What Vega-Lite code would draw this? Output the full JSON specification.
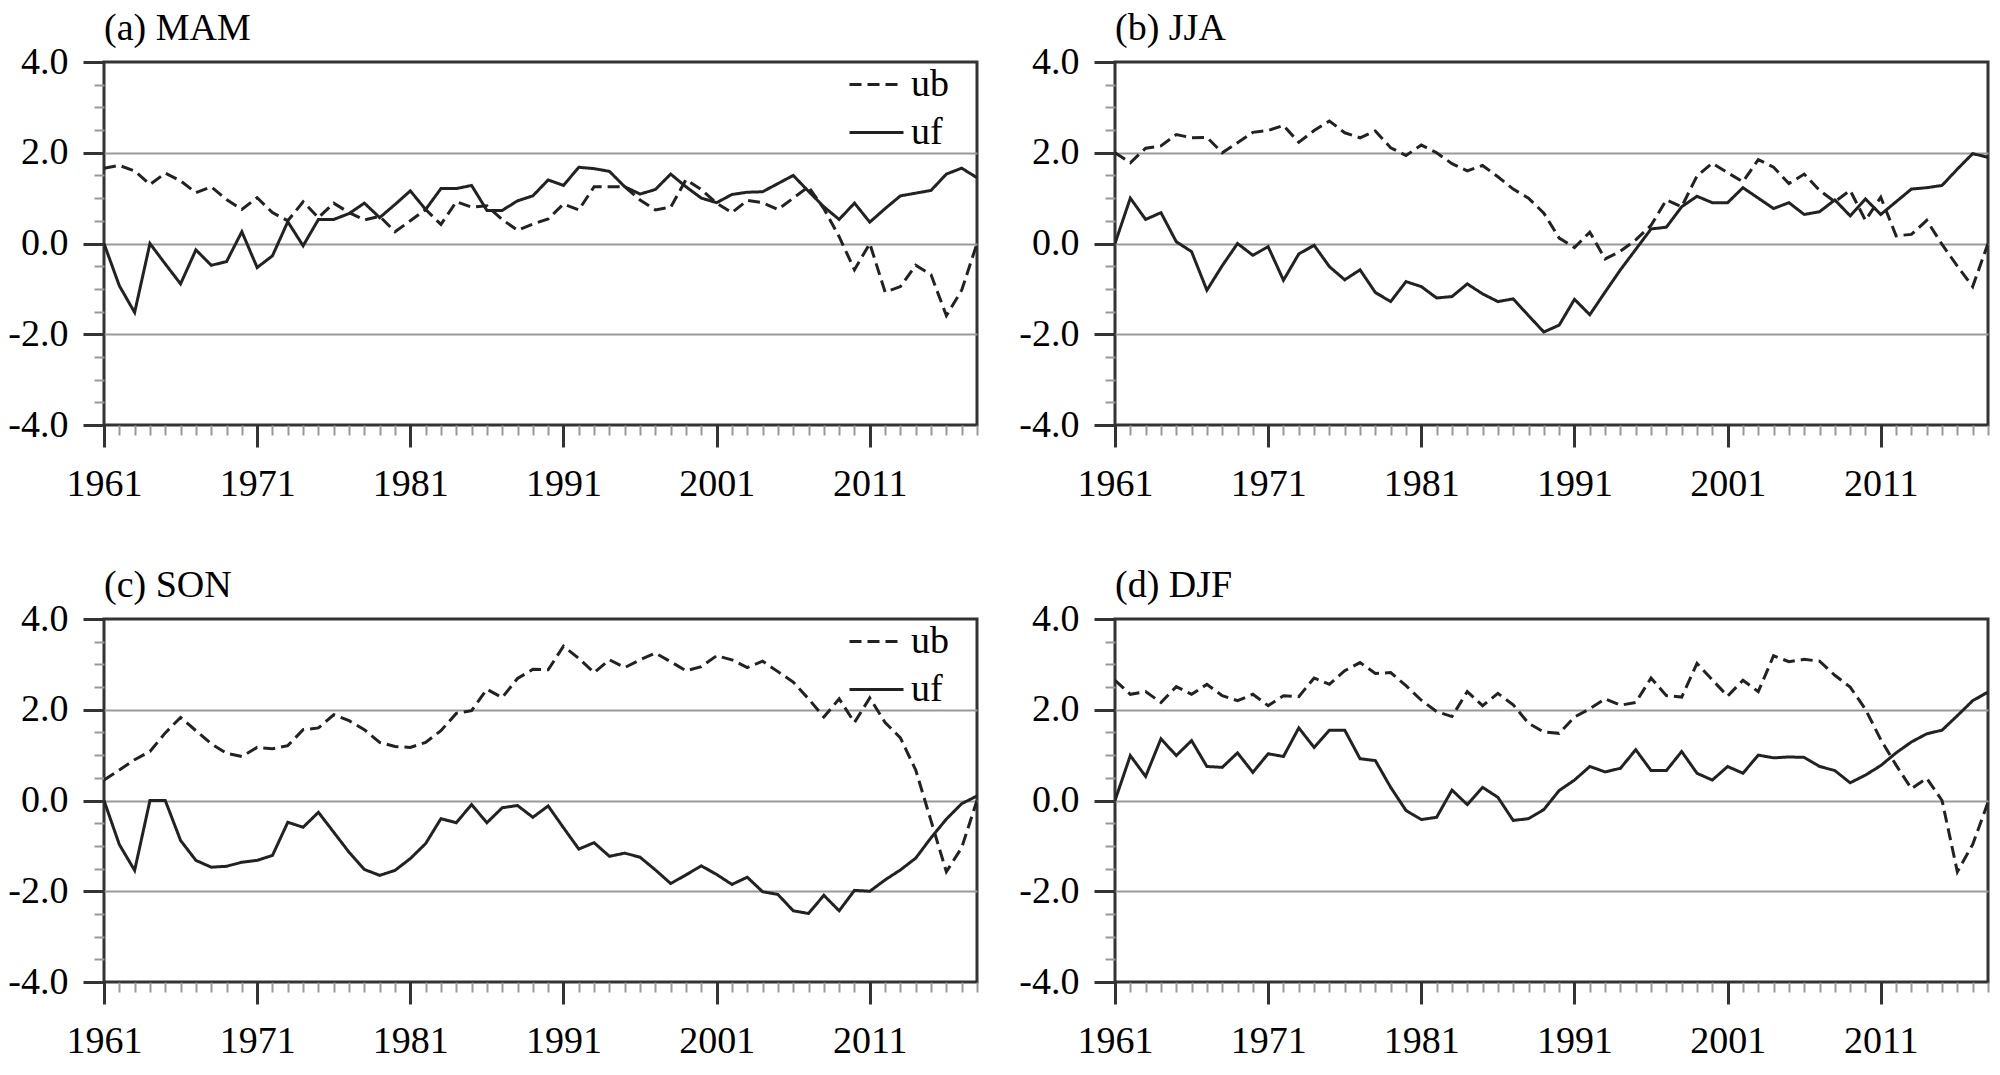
{
  "$schema": "https://vega.github.io/schema/vega-lite/v6.json",
  "background": "white",
  "padding": {"left": 6, "top": 8, "right": 5, "bottom": 5},
  "datasets": {
    "a": [
      {"year":1961,"ub":1.66,"uf":0},{"year":1962,"ub":1.72,"uf":-0.93},{"year":1963,"ub":1.6,"uf":-1.52},{"year":1964,"ub":1.3,"uf":0},
      {"year":1965,"ub":1.55,"uf":-0.45},{"year":1966,"ub":1.38,"uf":-0.89},{"year":1967,"ub":1.12,"uf":-0.14},{"year":1968,"ub":1.25,"uf":-0.48},
      {"year":1969,"ub":0.97,"uf":-0.4},{"year":1970,"ub":0.75,"uf":0.26},{"year":1971,"ub":1.01,"uf":-0.53},{"year":1972,"ub":0.68,"uf":-0.27},
      {"year":1973,"ub":0.5,"uf":0.48},{"year":1974,"ub":0.92,"uf":-0.05},{"year":1975,"ub":0.57,"uf":0.53},{"year":1976,"ub":0.89,"uf":0.53},
      {"year":1977,"ub":0.68,"uf":0.66},{"year":1978,"ub":0.52,"uf":0.89},{"year":1979,"ub":0.6,"uf":0.57},{"year":1980,"ub":0.26,"uf":0.86},
      {"year":1981,"ub":0.5,"uf":1.16},{"year":1982,"ub":0.75,"uf":0.75},{"year":1983,"ub":0.42,"uf":1.21},{"year":1984,"ub":0.92,"uf":1.21},
      {"year":1985,"ub":0.8,"uf":1.28},{"year":1986,"ub":0.83,"uf":0.73},{"year":1987,"ub":0.53,"uf":0.73},{"year":1988,"ub":0.29,"uf":0.94},
      {"year":1989,"ub":0.43,"uf":1.05},{"year":1990,"ub":0.54,"uf":1.4},{"year":1991,"ub":0.87,"uf":1.28},{"year":1992,"ub":0.74,"uf":1.68},
      {"year":1993,"ub":1.25,"uf":1.65},{"year":1994,"ub":1.25,"uf":1.59},{"year":1995,"ub":1.25,"uf":1.25},{"year":1996,"ub":0.96,"uf":1.09},
      {"year":1997,"ub":0.74,"uf":1.19},{"year":1998,"ub":0.8,"uf":1.53},{"year":1999,"ub":1.41,"uf":1.25},{"year":2000,"ub":1.19,"uf":1.0},
      {"year":2001,"ub":0.89,"uf":0.9},{"year":2002,"ub":0.68,"uf":1.08},{"year":2003,"ub":0.95,"uf":1.13},{"year":2004,"ub":0.9,"uf":1.14},
      {"year":2005,"ub":0.75,"uf":1.32},{"year":2006,"ub":1.0,"uf":1.5},{"year":2007,"ub":1.25,"uf":1.15},{"year":2008,"ub":0.77,"uf":0.81},
      {"year":2009,"ub":0.15,"uf":0.53},{"year":2010,"ub":-0.58,"uf":0.89},{"year":2011,"ub":0,"uf":0.47},{"year":2012,"ub":-1.07,"uf":0.77},
      {"year":2013,"ub":-0.95,"uf":1.05},{"year":2014,"ub":-0.48,"uf":1.11},{"year":2015,"ub":-0.69,"uf":1.17},{"year":2016,"ub":-1.59,"uf":1.53},
      {"year":2017,"ub":-1.03,"uf":1.66},{"year":2018,"ub":0,"uf":1.45}
    ],
    "b": [
      {"year":1961,"ub":2.0,"uf":0},{"year":1962,"ub":1.78,"uf":1.0},{"year":1963,"ub":2.1,"uf":0.53},{"year":1964,"ub":2.15,"uf":0.68},
      {"year":1965,"ub":2.4,"uf":0.04},{"year":1966,"ub":2.33,"uf":-0.18},{"year":1967,"ub":2.34,"uf":-1.03},{"year":1968,"ub":2.0,"uf":-0.49},
      {"year":1969,"ub":2.22,"uf":0},{"year":1970,"ub":2.45,"uf":-0.26},{"year":1971,"ub":2.49,"uf":-0.07},{"year":1972,"ub":2.6,"uf":-0.81},
      {"year":1973,"ub":2.23,"uf":-0.23},{"year":1974,"ub":2.49,"uf":-0.04},{"year":1975,"ub":2.7,"uf":-0.51},{"year":1976,"ub":2.44,"uf":-0.8},
      {"year":1977,"ub":2.33,"uf":-0.58},{"year":1978,"ub":2.48,"uf":-1.08},{"year":1979,"ub":2.11,"uf":-1.28},{"year":1980,"ub":1.94,"uf":-0.84},
      {"year":1981,"ub":2.17,"uf":-0.95},{"year":1982,"ub":2.0,"uf":-1.2},{"year":1983,"ub":1.76,"uf":-1.17},{"year":1984,"ub":1.6,"uf":-0.89},
      {"year":1985,"ub":1.72,"uf":-1.11},{"year":1986,"ub":1.47,"uf":-1.28},{"year":1987,"ub":1.2,"uf":-1.22},{"year":1988,"ub":1.0,"uf":-1.59},
      {"year":1989,"ub":0.67,"uf":-1.95},{"year":1990,"ub":0.12,"uf":-1.8},{"year":1991,"ub":-0.09,"uf":-1.23},{"year":1992,"ub":0.25,"uf":-1.57},
      {"year":1993,"ub":-0.34,"uf":-1.07},{"year":1994,"ub":-0.17,"uf":-0.58},{"year":1995,"ub":0.08,"uf":-0.13},{"year":1996,"ub":0.4,"uf":0.32},
      {"year":1997,"ub":0.96,"uf":0.36},{"year":1998,"ub":0.81,"uf":0.81},{"year":1999,"ub":1.49,"uf":1.04},{"year":2000,"ub":1.77,"uf":0.9},
      {"year":2001,"ub":1.56,"uf":0.9},{"year":2002,"ub":1.36,"uf":1.23},{"year":2003,"ub":1.85,"uf":1.0},{"year":2004,"ub":1.68,"uf":0.77},
      {"year":2005,"ub":1.32,"uf":0.9},{"year":2006,"ub":1.53,"uf":0.64},{"year":2007,"ub":1.17,"uf":0.7},{"year":2008,"ub":0.92,"uf":0.96},
      {"year":2009,"ub":1.17,"uf":0.61},{"year":2010,"ub":0.51,"uf":0.98},{"year":2011,"ub":1.02,"uf":0.64},{"year":2012,"ub":0.17,"uf":0.92},
      {"year":2013,"ub":0.2,"uf":1.2},{"year":2014,"ub":0.51,"uf":1.23},{"year":2015,"ub":-0.02,"uf":1.28},{"year":2016,"ub":-0.5,"uf":1.64},
      {"year":2017,"ub":-0.95,"uf":1.98},{"year":2018,"ub":0,"uf":1.9}
    ],
    "c": [
      {"year":1961,"ub":0.45,"uf":0},{"year":1962,"ub":0.67,"uf":-0.97},{"year":1963,"ub":0.9,"uf":-1.54},{"year":1964,"ub":1.08,"uf":0},
      {"year":1965,"ub":1.49,"uf":0},{"year":1966,"ub":1.83,"uf":-0.88},{"year":1967,"ub":1.54,"uf":-1.32},{"year":1968,"ub":1.25,"uf":-1.47},
      {"year":1969,"ub":1.04,"uf":-1.45},{"year":1970,"ub":0.97,"uf":-1.36},{"year":1971,"ub":1.17,"uf":-1.32},{"year":1972,"ub":1.14,"uf":-1.21},
      {"year":1973,"ub":1.21,"uf":-0.48},{"year":1974,"ub":1.56,"uf":-0.59},{"year":1975,"ub":1.6,"uf":-0.26},{"year":1976,"ub":1.89,"uf":-0.7},
      {"year":1977,"ub":1.76,"uf":-1.14},{"year":1978,"ub":1.56,"uf":-1.52},{"year":1979,"ub":1.28,"uf":-1.65},{"year":1980,"ub":1.19,"uf":-1.54},
      {"year":1981,"ub":1.17,"uf":-1.28},{"year":1982,"ub":1.28,"uf":-0.95},{"year":1983,"ub":1.54,"uf":-0.4},{"year":1984,"ub":1.92,"uf":-0.49},
      {"year":1985,"ub":1.98,"uf":-0.09},{"year":1986,"ub":2.45,"uf":-0.49},{"year":1987,"ub":2.27,"uf":-0.16},{"year":1988,"ub":2.69,"uf":-0.11},
      {"year":1989,"ub":2.89,"uf":-0.37},{"year":1990,"ub":2.88,"uf":-0.12},{"year":1991,"ub":3.4,"uf":-0.6},{"year":1992,"ub":3.13,"uf":-1.07},
      {"year":1993,"ub":2.82,"uf":-0.93},{"year":1994,"ub":3.1,"uf":-1.23},{"year":1995,"ub":2.93,"uf":-1.16},{"year":1996,"ub":3.1,"uf":-1.25},
      {"year":1997,"ub":3.25,"uf":-1.53},{"year":1998,"ub":3.06,"uf":-1.83},{"year":1999,"ub":2.86,"uf":-1.64},{"year":2000,"ub":2.95,"uf":-1.44},
      {"year":2001,"ub":3.19,"uf":-1.63},{"year":2002,"ub":3.1,"uf":-1.85},{"year":2003,"ub":2.93,"uf":-1.69},{"year":2004,"ub":3.07,"uf":-2.01},
      {"year":2005,"ub":2.84,"uf":-2.07},{"year":2006,"ub":2.61,"uf":-2.43},{"year":2007,"ub":2.24,"uf":-2.49},{"year":2008,"ub":1.84,"uf":-2.09},
      {"year":2009,"ub":2.24,"uf":-2.43},{"year":2010,"ub":1.72,"uf":-1.98},{"year":2011,"ub":2.26,"uf":-2.0},{"year":2012,"ub":1.72,"uf":-1.75},
      {"year":2013,"ub":1.38,"uf":-1.53},{"year":2014,"ub":0.67,"uf":-1.27},{"year":2015,"ub":-0.45,"uf":-0.82},{"year":2016,"ub":-1.57,"uf":-0.41},
      {"year":2017,"ub":-1.04,"uf":-0.07},{"year":2018,"ub":0,"uf":0.1}
    ],
    "d": [
      {"year":1961,"ub":2.65,"uf":0},{"year":1962,"ub":2.34,"uf":0.99},{"year":1963,"ub":2.4,"uf":0.53},{"year":1964,"ub":2.16,"uf":1.36},
      {"year":1965,"ub":2.51,"uf":0.99},{"year":1966,"ub":2.34,"uf":1.32},{"year":1967,"ub":2.56,"uf":0.75},{"year":1968,"ub":2.31,"uf":0.73},
      {"year":1969,"ub":2.2,"uf":1.05},{"year":1970,"ub":2.34,"uf":0.62},{"year":1971,"ub":2.09,"uf":1.03},{"year":1972,"ub":2.31,"uf":0.97},
      {"year":1973,"ub":2.29,"uf":1.6},{"year":1974,"ub":2.7,"uf":1.17},{"year":1975,"ub":2.56,"uf":1.55},{"year":1976,"ub":2.86,"uf":1.55},
      {"year":1977,"ub":3.04,"uf":0.92},{"year":1978,"ub":2.8,"uf":0.88},{"year":1979,"ub":2.82,"uf":0.29},{"year":1980,"ub":2.53,"uf":-0.22},
      {"year":1981,"ub":2.21,"uf":-0.42},{"year":1982,"ub":1.96,"uf":-0.37},{"year":1983,"ub":1.85,"uf":0.23},{"year":1984,"ub":2.4,"uf":-0.09},
      {"year":1985,"ub":2.09,"uf":0.29},{"year":1986,"ub":2.36,"uf":0.07},{"year":1987,"ub":2.11,"uf":-0.44},{"year":1988,"ub":1.7,"uf":-0.4},
      {"year":1989,"ub":1.51,"uf":-0.2},{"year":1990,"ub":1.48,"uf":0.22},{"year":1991,"ub":1.84,"uf":0.45},{"year":1992,"ub":2.02,"uf":0.75},
      {"year":1993,"ub":2.24,"uf":0.63},{"year":1994,"ub":2.1,"uf":0.71},{"year":1995,"ub":2.16,"uf":1.12},{"year":1996,"ub":2.7,"uf":0.66},
      {"year":1997,"ub":2.31,"uf":0.66},{"year":1998,"ub":2.28,"uf":1.08},{"year":1999,"ub":3.02,"uf":0.6},{"year":2000,"ub":2.66,"uf":0.45},
      {"year":2001,"ub":2.3,"uf":0.75},{"year":2002,"ub":2.65,"uf":0.6},{"year":2003,"ub":2.4,"uf":1.0},{"year":2004,"ub":3.19,"uf":0.94},
      {"year":2005,"ub":3.06,"uf":0.96},{"year":2006,"ub":3.11,"uf":0.95},{"year":2007,"ub":3.07,"uf":0.75},{"year":2008,"ub":2.76,"uf":0.66},
      {"year":2009,"ub":2.5,"uf":0.39},{"year":2010,"ub":2.01,"uf":0.56},{"year":2011,"ub":1.34,"uf":0.77},{"year":2012,"ub":0.78,"uf":1.05},
      {"year":2013,"ub":0.26,"uf":1.29},{"year":2014,"ub":0.49,"uf":1.47},{"year":2015,"ub":0,"uf":1.55},{"year":2016,"ub":-1.57,"uf":1.87},
      {"year":2017,"ub":-0.97,"uf":2.2},{"year":2018,"ub":-0.04,"uf":2.39}
    ]
  },
  "vconcat": [
    {
      "hconcat": [
        {
          "title": "(a) MAM",
          "width": 873, "height": 363,
          "data": {"name": "a"},
          "transform": [{"fold": ["ub", "uf"], "as": ["series", "value"]}],
          "mark": {"type": "line", "strokeWidth": 3, "color": "#222", "clip": true},
          "encoding": {
            "x": {"field": "year", "type": "quantitative", "scale": {"domain": [1961, 2018], "nice": false, "zero": false},
              "axis": {"values": [1961,1962,1963,1964,1965,1966,1967,1968,1969,1970,1971,1972,1973,1974,1975,1976,1977,1978,1979,1980,1981,1982,1983,1984,1985,1986,1987,1988,1989,1990,1991,1992,1993,1994,1995,1996,1997,1998,1999,2000,2001,2002,2003,2004,2005,2006,2007,2008,2009,2010,2011,2012,2013,2014,2015,2016,2017,2018],
                "labelExpr": "(datum.value - 1961) % 10 === 0 ? format(datum.value, 'd') : ''",
                "tickSize": {"condition": {"test": "(datum.value - 1961) % 10 === 0", "value": 22}, "value": 10},
                "tickWidth": {"condition": {"test": "(datum.value - 1961) % 10 === 0", "value": 3}, "value": 2},
                "tickColor": {"condition": {"test": "(datum.value - 1961) % 10 === 0", "value": "#333"}, "value": "#999"},
                "labelPadding": 18, "labelOverlap": false, "labelFlush": false, "grid": false}},
            "y": {"field": "value", "type": "quantitative", "scale": {"domain": [-4, 4], "nice": false, "zero": false},
              "axis": {"values": [-4,-3.5,-3,-2.5,-2,-1.5,-1,-0.5,0,0.5,1,1.5,2,2.5,3,3.5,4],
                "labelExpr": "datum.value % 2 === 0 ? (datum.value < 0 ? '-' + format(-datum.value, '.1f') : format(datum.value, '.1f')) : ''",
                "tickSize": {"condition": {"test": "datum.value % 2 === 0", "value": 21}, "value": 10},
                "tickWidth": {"condition": {"test": "datum.value % 2 === 0", "value": 3}, "value": 2},
                "tickColor": {"condition": {"test": "datum.value % 2 === 0", "value": "#333"}, "value": "#999"},
                "grid": true, "gridColor": "#999", "gridWidth": 2,
                "gridOpacity": {"condition": {"test": "abs(datum.value) === 2 || datum.value === 0", "value": 1}, "value": 0},
                "labelPadding": 15, "labelOverlap": false, "labelFlush": false}},
            "strokeDash": {"field": "series", "type": "nominal", "scale": {"domain": ["ub", "uf"], "range": [[12, 6], [1, 0]]},
              "legend": {"orient": "none", "legendX": 744, "legendY": -6, "title": null, "symbolType": "stroke", "symbolSize": 2916, "symbolStrokeWidth": 3, "symbolStrokeColor": "#222", "labelFontSize": 38, "labelFont": "Liberation Serif", "labelColor": "#000", "labelOffset": 6, "rowPadding": -9, "padding": 0}}
          }
        },
        {
          "title": "(b) JJA",
          "width": 873, "height": 363,
          "data": {"name": "b"},
          "transform": [{"fold": ["ub", "uf"], "as": ["series", "value"]}],
          "mark": {"type": "line", "strokeWidth": 3, "color": "#222", "clip": true},
          "encoding": {
            "x": {"field": "year", "type": "quantitative", "scale": {"domain": [1961, 2018], "nice": false, "zero": false},
              "axis": {"values": [1961,1962,1963,1964,1965,1966,1967,1968,1969,1970,1971,1972,1973,1974,1975,1976,1977,1978,1979,1980,1981,1982,1983,1984,1985,1986,1987,1988,1989,1990,1991,1992,1993,1994,1995,1996,1997,1998,1999,2000,2001,2002,2003,2004,2005,2006,2007,2008,2009,2010,2011,2012,2013,2014,2015,2016,2017,2018],
                "labelExpr": "(datum.value - 1961) % 10 === 0 ? format(datum.value, 'd') : ''",
                "tickSize": {"condition": {"test": "(datum.value - 1961) % 10 === 0", "value": 22}, "value": 10},
                "tickWidth": {"condition": {"test": "(datum.value - 1961) % 10 === 0", "value": 3}, "value": 2},
                "tickColor": {"condition": {"test": "(datum.value - 1961) % 10 === 0", "value": "#333"}, "value": "#999"},
                "labelPadding": 18, "labelOverlap": false, "labelFlush": false, "grid": false}},
            "y": {"field": "value", "type": "quantitative", "scale": {"domain": [-4, 4], "nice": false, "zero": false},
              "axis": {"values": [-4,-3.5,-3,-2.5,-2,-1.5,-1,-0.5,0,0.5,1,1.5,2,2.5,3,3.5,4],
                "labelExpr": "datum.value % 2 === 0 ? (datum.value < 0 ? '-' + format(-datum.value, '.1f') : format(datum.value, '.1f')) : ''",
                "tickSize": {"condition": {"test": "datum.value % 2 === 0", "value": 21}, "value": 10},
                "tickWidth": {"condition": {"test": "datum.value % 2 === 0", "value": 3}, "value": 2},
                "tickColor": {"condition": {"test": "datum.value % 2 === 0", "value": "#333"}, "value": "#999"},
                "grid": true, "gridColor": "#999", "gridWidth": 2,
                "gridOpacity": {"condition": {"test": "abs(datum.value) === 2 || datum.value === 0", "value": 1}, "value": 0},
                "labelPadding": 15, "labelOverlap": false, "labelFlush": false}},
            "strokeDash": {"field": "series", "type": "nominal", "scale": {"domain": ["ub", "uf"], "range": [[12, 6], [1, 0]]},
              "legend": {"orient": "none", "legendX": 744, "legendY": -6, "title": null, "symbolType": "stroke", "symbolSize": 2916, "symbolStrokeWidth": 3, "symbolStrokeColor": "#222", "labelFontSize": 38, "labelFont": "Liberation Serif", "labelColor": "#000", "labelOffset": 6, "rowPadding": -9, "padding": 0}}
          }
        }
      ],
      "spacing": 37
    },
    {
      "hconcat": [
        {
          "title": "(c) SON",
          "width": 873, "height": 363,
          "data": {"name": "c"},
          "transform": [{"fold": ["ub", "uf"], "as": ["series", "value"]}],
          "mark": {"type": "line", "strokeWidth": 3, "color": "#222", "clip": true},
          "encoding": {
            "x": {"field": "year", "type": "quantitative", "scale": {"domain": [1961, 2018], "nice": false, "zero": false},
              "axis": {"values": [1961,1962,1963,1964,1965,1966,1967,1968,1969,1970,1971,1972,1973,1974,1975,1976,1977,1978,1979,1980,1981,1982,1983,1984,1985,1986,1987,1988,1989,1990,1991,1992,1993,1994,1995,1996,1997,1998,1999,2000,2001,2002,2003,2004,2005,2006,2007,2008,2009,2010,2011,2012,2013,2014,2015,2016,2017,2018],
                "labelExpr": "(datum.value - 1961) % 10 === 0 ? format(datum.value, 'd') : ''",
                "tickSize": {"condition": {"test": "(datum.value - 1961) % 10 === 0", "value": 22}, "value": 10},
                "tickWidth": {"condition": {"test": "(datum.value - 1961) % 10 === 0", "value": 3}, "value": 2},
                "tickColor": {"condition": {"test": "(datum.value - 1961) % 10 === 0", "value": "#333"}, "value": "#999"},
                "labelPadding": 18, "labelOverlap": false, "labelFlush": false, "grid": false}},
            "y": {"field": "value", "type": "quantitative", "scale": {"domain": [-4, 4], "nice": false, "zero": false},
              "axis": {"values": [-4,-3.5,-3,-2.5,-2,-1.5,-1,-0.5,0,0.5,1,1.5,2,2.5,3,3.5,4],
                "labelExpr": "datum.value % 2 === 0 ? (datum.value < 0 ? '-' + format(-datum.value, '.1f') : format(datum.value, '.1f')) : ''",
                "tickSize": {"condition": {"test": "datum.value % 2 === 0", "value": 21}, "value": 10},
                "tickWidth": {"condition": {"test": "datum.value % 2 === 0", "value": 3}, "value": 2},
                "tickColor": {"condition": {"test": "datum.value % 2 === 0", "value": "#333"}, "value": "#999"},
                "grid": true, "gridColor": "#999", "gridWidth": 2,
                "gridOpacity": {"condition": {"test": "abs(datum.value) === 2 || datum.value === 0", "value": 1}, "value": 0},
                "labelPadding": 15, "labelOverlap": false, "labelFlush": false}},
            "strokeDash": {"field": "series", "type": "nominal", "scale": {"domain": ["ub", "uf"], "range": [[12, 6], [1, 0]]},
              "legend": {"orient": "none", "legendX": 744, "legendY": -6, "title": null, "symbolType": "stroke", "symbolSize": 2916, "symbolStrokeWidth": 3, "symbolStrokeColor": "#222", "labelFontSize": 38, "labelFont": "Liberation Serif", "labelColor": "#000", "labelOffset": 6, "rowPadding": -9, "padding": 0}}
          }
        },
        {
          "title": "(d) DJF",
          "width": 873, "height": 363,
          "data": {"name": "d"},
          "transform": [{"fold": ["ub", "uf"], "as": ["series", "value"]}],
          "mark": {"type": "line", "strokeWidth": 3, "color": "#222", "clip": true},
          "encoding": {
            "x": {"field": "year", "type": "quantitative", "scale": {"domain": [1961, 2018], "nice": false, "zero": false},
              "axis": {"values": [1961,1962,1963,1964,1965,1966,1967,1968,1969,1970,1971,1972,1973,1974,1975,1976,1977,1978,1979,1980,1981,1982,1983,1984,1985,1986,1987,1988,1989,1990,1991,1992,1993,1994,1995,1996,1997,1998,1999,2000,2001,2002,2003,2004,2005,2006,2007,2008,2009,2010,2011,2012,2013,2014,2015,2016,2017,2018],
                "labelExpr": "(datum.value - 1961) % 10 === 0 ? format(datum.value, 'd') : ''",
                "tickSize": {"condition": {"test": "(datum.value - 1961) % 10 === 0", "value": 22}, "value": 10},
                "tickWidth": {"condition": {"test": "(datum.value - 1961) % 10 === 0", "value": 3}, "value": 2},
                "tickColor": {"condition": {"test": "(datum.value - 1961) % 10 === 0", "value": "#333"}, "value": "#999"},
                "labelPadding": 18, "labelOverlap": false, "labelFlush": false, "grid": false}},
            "y": {"field": "value", "type": "quantitative", "scale": {"domain": [-4, 4], "nice": false, "zero": false},
              "axis": {"values": [-4,-3.5,-3,-2.5,-2,-1.5,-1,-0.5,0,0.5,1,1.5,2,2.5,3,3.5,4],
                "labelExpr": "datum.value % 2 === 0 ? (datum.value < 0 ? '-' + format(-datum.value, '.1f') : format(datum.value, '.1f')) : ''",
                "tickSize": {"condition": {"test": "datum.value % 2 === 0", "value": 21}, "value": 10},
                "tickWidth": {"condition": {"test": "datum.value % 2 === 0", "value": 3}, "value": 2},
                "tickColor": {"condition": {"test": "datum.value % 2 === 0", "value": "#333"}, "value": "#999"},
                "grid": true, "gridColor": "#999", "gridWidth": 2,
                "gridOpacity": {"condition": {"test": "abs(datum.value) === 2 || datum.value === 0", "value": 1}, "value": 0},
                "labelPadding": 15, "labelOverlap": false, "labelFlush": false}},
            "strokeDash": {"field": "series", "type": "nominal", "scale": {"domain": ["ub", "uf"], "range": [[12, 6], [1, 0]]},
              "legend": {"orient": "none", "legendX": 744, "legendY": -6, "title": null, "symbolType": "stroke", "symbolSize": 2916, "symbolStrokeWidth": 3, "symbolStrokeColor": "#222", "labelFontSize": 38, "labelFont": "Liberation Serif", "labelColor": "#000", "labelOffset": 6, "rowPadding": -9, "padding": 0}}
          }
        }
      ],
      "spacing": 37
    }
  ],
  "spacing": 60,
  "resolve": {"scale": {"strokeDash": "independent"}},
  "config": {
    "font": "Liberation Serif",
    "view": {"stroke": "#333", "strokeWidth": 3},
    "title": {"font": "Liberation Serif", "fontSize": 38, "fontWeight": "normal", "anchor": "start", "color": "#000", "offset": -5, "frame": "group"},
    "axis": {"labelFont": "Liberation Serif", "labelFontSize": 38, "labelColor": "#000", "domain": false, "title": null}
  }
}
